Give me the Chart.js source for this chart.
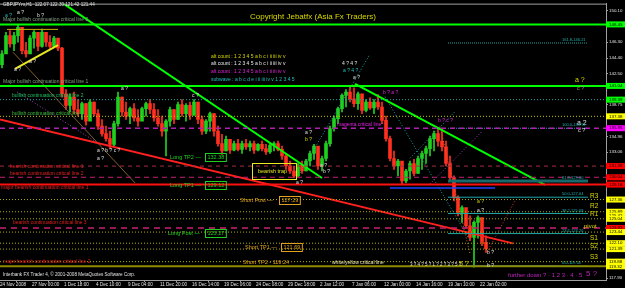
<!DOCTYPE html>
<html>
<head>
<meta charset="utf-8">
<script src="https://cdn.jsdelivr.net/npm/chart.js@4/dist/chart.umd.min.js"></script>
<style>
  html, body { margin: 0; padding: 0; background: #000; }
</style>
</head>
<body>
<canvas id="chart" width="625" height="288"></canvas>
<script>
// GBPJPYm H1 candles (one candle = one column of the picture)
const highs = [145.3,147.5,147.7,147.5,148.4,147.5,146.3,147.1,147.7,147.5,
  147.9,147.5,147.1,147.0,146.5,145.7,140.6,140.1,140.3,139.4,
  139.1,138.9,139.4,139.1,138.2,137.0,136.2,135.6,136.8,140.3,
  139.7,139.1,138.5,138.9,138.2,138.5,139.1,139.4,138.9,138.2,
  137.4,137.0,138.5,138.2,139.1,139.4,138.9,139.1,139.4,139.1,
  137.4,137.0,137.9,137.7,136.2,135.2,135.0,134.6,134.4,134.6,
  134.4,134.6,134.4,134.4,134.1,134.4,134.0,134.1,134.3,134.4,
  133.8,132.9,132.0,131.4,131.7,132.0,132.2,133.2,134.0,133.4,
  132.6,134.4,136.2,137.4,138.5,140.1,140.6,141.0,140.8,140.3,
  139.7,139.4,139.6,139.4,140.0,139.1,137.4,135.0,133.2,132.2,
  131.4,131.0,132.0,132.2,132.6,133.2,133.8,135.0,135.6,135.9,
  135.8,134.4,132.6,130.2,127.8,126.6,126.0,125.4,124.8,125.4,
  124.2,123.0];
const lows = [143.2,145.1,145.7,145.3,146.3,144.9,144.5,145.1,145.6,145.3,
  145.7,145.8,145.5,145.7,145.3,139.7,138.2,137.9,137.7,137.4,
  137.0,136.3,137.0,137.4,135.8,135.0,134.4,133.5,133.8,136.2,
  137.4,137.0,136.5,136.8,136.2,137.0,137.4,137.7,136.8,136.2,
  135.0,132.6,136.2,136.5,137.0,137.4,136.8,137.0,137.7,136.5,
  135.2,135.3,135.6,135.0,133.8,132.8,133.2,132.9,133.2,133.2,
  132.9,133.4,133.2,132.9,133.2,133.2,132.8,132.9,133.2,133.2,
  132.2,131.0,130.5,130.0,130.1,130.5,130.8,131.4,132.2,131.0,
  130.8,132.0,133.8,135.6,136.5,137.9,138.5,139.1,138.5,138.2,
  137.7,137.9,138.2,137.7,138.2,136.5,134.4,132.0,131.0,130.2,
  129.2,129.4,129.8,130.2,130.5,131.0,131.7,132.6,133.2,133.8,
  133.2,131.4,129.6,127.2,125.4,124.6,123.9,122.4,119.2,122.7,
  121.8,121.0];
const closes = [144.9,147.1,146.1,147.1,148.1,145.3,144.9,146.8,147.5,145.8,
  147.5,146.3,145.8,146.8,145.6,140.1,138.7,139.7,138.2,137.7,
  138.9,136.8,139.1,137.7,136.2,135.3,134.7,134.0,136.5,139.7,
  137.9,137.4,138.3,137.2,136.8,138.3,138.9,138.2,137.2,136.5,
  135.6,136.8,138.2,137.0,138.8,137.7,138.7,137.5,139.1,137.0,
  135.6,136.8,137.7,135.6,134.1,133.2,134.6,133.3,134.1,133.4,
  134.1,133.7,134.1,133.3,134.0,133.5,133.1,133.9,134.1,133.4,
  132.6,131.4,130.8,130.2,131.5,130.8,132.0,132.9,133.8,131.4,
  132.3,134.1,135.9,137.1,138.3,139.9,140.3,139.5,138.9,140.1,
  138.1,139.1,138.4,139.1,138.5,136.9,134.7,132.3,131.4,132.0,
  129.6,130.8,131.7,130.5,132.3,132.9,133.5,134.7,135.3,134.4,
  133.7,131.7,130.0,127.6,125.8,126.4,124.2,122.8,124.6,125.2,
  122.2,121.44];
const firstOpen = 143.6;

const dateLabels = ['24 Nov 2008','27 Nov 00:00','1 Dec 18:00','4 Dec 10:00','9 Dec 04:00',
  '11 Dec 20:00','16 Dec 14:00','19 Dec 06:00','24 Dec 08:00','29 Dec 18:00','2 Jan 12:00',
  '7 Jan 06:00','12 Jan 00:00','14 Jan 16:00','19 Jan 10:00','22 Jan 02:00'];
const barsPerLabel = 8;
const priceTicks = [150.10, 146.30, 144.40, 142.50, 138.75, 134.96, 133.06, 117.90];

// horizontal levels
const majorBullLevels = [148.45, 141.04];
const bullLine2 = 139.39;
const bullLine1 = 137.38;
const magentaLine = 135.95;
const bearLine1 = 131.39;
const bearLine2 = 130.04;
const majorBearLine1 = 129.16;
const pivotLine = 123.93;
const pivotLevels = [127.36, 125.89, 125.04, 123.44, 122.10, 121.39, 119.88];
const whiteYellowLine = 119.32;
const fibNames = ['161.8', '100.0', '61.8', '50.0', '38.2', '23.6', '0.0'];
const fibValues = [146.21, 135.94, 129.60, 127.64, 125.68, 123.26, 119.34];
const fibSpan = [111.5, 146.5];
const blueLevels = [128.76, 119.34];
const blueSpans = [[97, 123.25], [114.5, 138.75]];

// trend lines [bar, price]
const greenTrend1 = [[15, 151.07], [80, 129.95]];
const greenTrend2 = [[88.25, 141.29], [135.75, 129.12]];
const redTrend = [[-0.5, 137.0], [127.75, 122.08]];
const yellowTrend = [[3.25, 143.08], [14, 145.94]];
const yellowTop = [[1.25, 147.85], [14, 147.85]];
const brownTrend = [[2.75, 145.1], [33.25, 129.36]];
const purpleTrend = [[3.75, 140.33], [24.5, 134.01]];
// wave channel lines
const tealWave1 = [[74.5, 130.55], [92, 144.87]];
const tealWave2 = [[95.75, 139.74], [117, 122.44]];
const tealWave3 = [[102, 132.34], [113.25, 137.95]];
const orangeWave = [[109.5, 136.16], [117, 120.81]];
const redWave = [[121.25, 121.0], [128.25, 127.21]];
const purpleWave = [[107, 129.24], [120, 135.56]];

// right axis price tags
const tagValues = [148.45, 141.04, 139.39, 137.38, 135.95, 131.39, 130.04, 129.16,
  127.36, 125.89, 125.42, 125.04, 123.93, 123.44, 122.10, 121.39, 119.88, 119.32];
const tagColors = ['#00ff00', '#00ff00', '#00ff00', '#ffff00', '#ff00ff', '#ff0000', '#ff0000', '#ff0000',
  '#ffff00', '#ffff00', '#ffff00', '#ffff00', '#ff0000', '#ffff00', '#ffff00', '#ffff00', '#ffff00', '#ffff00'];

const X0 = -0.5, X1 = 151;
const FONT = '"Liberation Sans", Arial, sans-serif';

const opens = closes.map((c, i) => i === 0 ? firstOpen : closes[i - 1]);
const upCol = '#20d020', downCol = '#ff3020';
const candleCols = closes.map((c, i) => c >= opens[i] ? upCol : downCol);

function seg(a, b, color, width, dash) {
  return {
    type: 'line',
    data: [{ x: a[0], y: a[1] }, { x: b[0], y: b[1] }],
    borderColor: color,
    borderWidth: width,
    borderDash: dash || [],
    pointRadius: 0,
    fill: false,
    order: 1
  };
}
function level(v, color, width, dash, from, to) {
  return seg([from === undefined ? X0 : from, v], [to === undefined ? X1 : to, v], color, width, dash);
}

const datasets = [
  {
    type: 'bar',
    data: highs.map((h, i) => ({ x: i, y: [lows[i], h] })),
    backgroundColor: candleCols,
    barThickness: 1,
    grouped: false,
    order: 3
  },
  {
    type: 'bar',
    data: closes.map((c, i) => ({ x: i, y: [opens[i], c] })),
    backgroundColor: candleCols,
    barThickness: 3,
    grouped: false,
    minBarLength: 1,
    order: 2
  }
];

majorBullLevels.forEach(v => datasets.push(level(v, '#00ff00', 2)));
datasets.push(level(bullLine2, '#1fa0a0', 1, [1, 2]));
datasets.push(level(bullLine1, '#c8c800', 1, [1, 2]));
datasets.push(level(magentaLine, '#b020b0', 1.5, [5, 4]));
datasets.push(level(bearLine1, '#a03040', 1, [4, 4]));
datasets.push(level(bearLine2, '#c82070', 1, [5, 4]));
datasets.push(level(majorBearLine1, '#ff1010', 2));
pivotLevels.forEach(v => datasets.push(level(v, '#b0b000', 1, [1, 2])));
datasets.push(level(pivotLine, '#c82070', 1.5, [6, 5]));
datasets.push(level(whiteYellowLine, '#8c8c00', 2));
fibValues.forEach((v, i) => {
  const name = fibNames[i];
  if (name === '61.8') datasets.push(level(v, '#176a6a', 3, [], fibSpan[0], fibSpan[1]));
  else if (name === '161.8' || name === '100.0') datasets.push(level(v, '#20a0a0', 1, [1, 1], fibSpan[0], fibSpan[1]));
  else datasets.push(level(v, '#20a8a8', 1, [], fibSpan[0], fibSpan[1]));
});
blueLevels.forEach((v, i) => datasets.push(level(v, '#2040ff', 1.5, [], blueSpans[i][0], blueSpans[i][1])));
datasets.push(seg(greenTrend1[0], greenTrend1[1], '#00ff00', 2));
datasets.push(seg(greenTrend2[0], greenTrend2[1], '#00ff00', 2));
datasets.push(seg(redTrend[0], redTrend[1], '#ff2020', 2));
datasets.push(seg(yellowTrend[0], yellowTrend[1], '#e8e820', 2));
datasets.push(seg(yellowTop[0], yellowTop[1], '#c8b400', 1));
datasets.push(seg(brownTrend[0], brownTrend[1], '#806030', 1));
datasets.push(seg(purpleTrend[0], purpleTrend[1], '#a040c0', 1, [1, 2]));
datasets.push(seg(tealWave1[0], tealWave1[1], '#20a0a0', 1, [1, 2]));
datasets.push(seg(tealWave2[0], tealWave2[1], '#20a0a0', 1, [1, 2]));
datasets.push(seg(tealWave3[0], tealWave3[1], '#20a0a0', 1, [1, 2]));
datasets.push(seg(orangeWave[0], orangeWave[1], '#c07020', 1, [1, 2]));
datasets.push(seg(redWave[0], redWave[1], '#e03030', 1, [1, 2]));
datasets.push(seg(purpleWave[0], purpleWave[1], '#a040c0', 1, [1, 2]));

// text objects drawn on the chart: [text, x, y, colour, size]
const texts = [
  ['GBPJPYm,H1  122.07 122.30 121.42 121.44', 3, 5, '#e0e0e0', 4.6],
  ['Copyright Jebatfx (Asia Fx Traders)', 250, 17, '#d8d800', 8],
  ['alt count : 1 2 3 4 5 a b c i ii iii iv v', 211, 57, '#d8d800', 5],
  ['alt count : 1 2 3 4 5 a b c i ii iii iv v', 211, 64, '#e8e8e8', 5],
  ['alt count : 1 2 3 4 5 a b c i ii iii iv v', 211, 72, '#e020e0', 5],
  ['subwave : a b c d e i ii iii iv v 1 2 3 4 5', 211, 80, '#20c0c0', 5],
  ['Major bullish continuation critical line 2', 3, 20, '#80a080', 5],
  ['Major bullish continuation critical line 1', 3, 82, '#80a080', 5],
  ['bullish continuation critical line 2', 12, 96, '#20c060', 5],
  ['bullish continuation critical line 1', 12, 114, '#40c040', 5],
  ['bearish continuation critical line 1', 10, 167, '#e02020', 5],
  ['bearish continuation critical line 2', 10, 174, '#e02020', 5],
  ['major bearish continuation critical line 1', 1, 188, '#e02020', 5],
  ['bearish continuation critical line 3', 13, 223, '#e02020', 5],
  ['major bearish continuation critical line 2', 3, 262, '#e02020', 5],
  ['Interbank FX Trader 4, \u00a9 2001-2008 MetaQuotes Software Corp.', 3, 275, '#e0e0e0', 4.6],
  ['Long TP2 \u2014', 170, 157, '#20d020', 5.5],
  ['Long TP1 \u2014', 170, 185, '#20d020', 5.5],
  ['Long Post \u2014', 168, 233, '#20d020', 5.5],
  ['Short Post \u2014', 240, 200, '#e0a020', 5.5],
  ['Short TP1 \u2014', 245, 247, '#e0a020', 5.5],
  ['Short TP2 - 119.24', 243, 262, '#e0a020', 5.5],
  ['white/yellow critical line', 332, 263, '#e8e8b0', 5],
  ['magenta critical line', 337, 125, '#e020e0', 5],
  ['bearish trap', 258, 171, '#e8e820', 5.5],
  ['further down ? \u00b7 1 2 3 \u00b7 4 \u00b7 5', 508, 275, '#c020c0', 6],
  ['5 ?', 586, 274, '#c020c0', 8],
  ['R3', 590, 196, '#d8d800', 6.5],
  ['R2', 590, 206, '#d8d800', 6.5],
  ['R1', 590, 214, '#d8d800', 6.5],
  ['pivot', 584, 226, '#d8d800', 6],
  ['S1', 590, 238, '#d8d800', 6.5],
  ['S2', 590, 246, '#d8d800', 6.5],
  ['S3', 590, 257, '#d8d800', 6.5],
  ['a ?', 5, 16, '#20c0c0', 5], ['a ?', 17, 13, '#e0e0e0', 5], ['b ?', 37, 16, '#e0e0e0', 5],
  ['a ?', 14, 70, '#e0e0e0', 5], ['a ?', 29, 62, '#e0e0e0', 5], ['a ?', 121, 89, '#e0e0e0', 5],
  ['c ?', 192, 96, '#e0e0e0', 5], ['a ? b ? c ?', 97, 151, '#e0e0e0', 5], ['a ?', 97, 159, '#e0e0e0', 5],
  ['a ?', 305, 133, '#e0e0e0', 5], ['b ?', 305, 140, '#d8d800', 5], ['a ?', 320, 166, '#e0e0e0', 5],
  ['b ?', 323, 172, '#e0e0e0', 5], ['a ?', 296, 183, '#e0e0e0', 5], ['4 ? 4 ?', 342, 64, '#e0e0e0', 5],
  ['a ? 4 ?', 343, 71, '#20c0c0', 5], ['a ?', 353, 78, '#e0e0e0', 5], ['b ? a ?', 383, 93, '#e020e0', 5],
  ['b ? c ?', 438, 121, '#e020e0', 5], ['a ?', 477, 202, '#d8d800', 5], ['a ?', 477, 211, '#e0e0e0', 5],
  ['b ?', 487, 253, '#e0e0e0', 5], ['b ?', 487, 266, '#e0e0e0', 5],
  ['3 ? 4 ? 5 ? 1 ? 2 ? 3 ? 5 ?', 410, 265, '#e0e0e0', 4.5], ['5 ?', 459, 264, '#d8d800', 7],
  ['a ?', 575, 80, '#d8d800', 7], ['c ?', 577, 88, '#a0a060', 5.5],
  ['a 2', 577, 123, '#e0e0e0', 7], ['c ?', 578, 130, '#e0e0e0', 5.5]
];
fibValues.forEach((v, i) => texts.push([fibNames[i] + '-' + v.toFixed(2), 562, null, '#20b0b0', 4, v]));

// boxed price labels: [value text, x, y, colour]
const boxes = [
  ['132.38', 205, 157, '#20d020'],
  ['129.12', 205, 185, '#20d020'],
  ['123.27', 205, 233, '#20d020'],
  ['127.29', 279, 200, '#e0a020'],
  ['121.69', 281, 247, '#e0a020']
];

const overlay = {
  id: 'overlay',
  afterDraw(chart) {
    const ctx = chart.ctx, ys = chart.scales.y, area = chart.chartArea;
    ctx.save();
    // top frame line
    ctx.strokeStyle = '#a0a0a0';
    ctx.lineWidth = 1;
    ctx.beginPath();
    ctx.moveTo(0, area.top + 0.5);
    ctx.lineTo(area.right, area.top + 0.5);
    ctx.stroke();

    ctx.textBaseline = 'middle';
    texts.forEach(t => {
      ctx.font = t[4] + 'px ' + FONT;
      ctx.fillStyle = t[3];
      const y = t[2] === null ? ys.getPixelForValue(t[5]) - 3 : t[2];
      ctx.fillText(t[0], t[1], y);
    });

    ctx.font = '5.5px ' + FONT;
    boxes.forEach(b => {
      const w = ctx.measureText(b[0]).width + 4;
      ctx.strokeStyle = b[3];
      ctx.strokeRect(b[1] + 0.5, b[2] - 3.5, w, 8);
      ctx.fillStyle = b[3];
      ctx.fillText(b[0], b[1] + 2.5, b[2] + 0.5);
    });

    // bearish trap frame
    ctx.strokeStyle = '#e8e820';
    ctx.strokeRect(252.5, 163.5, 44, 16);

    // right axis price tags
    ctx.font = '4.4px ' + FONT;
    tagValues.forEach((v, i) => {
      const y = ys.getPixelForValue(v);
      ctx.fillStyle = tagColors[i];
      ctx.fillRect(area.right, y - 3, 19, 6);
      ctx.fillStyle = '#000';
      ctx.fillText(v.toFixed(2), area.right + 3, y);
    });
    ctx.restore();
  }
};

new Chart(document.getElementById('chart'), {
  type: 'bar',
  data: { datasets },
  options: {
    responsive: false,
    animation: false,
    layout: { padding: { top: 1, left: 0, right: 0, bottom: 0 } },
    plugins: { legend: { display: false }, tooltip: { enabled: false } },
    scales: {
      x: {
        type: 'linear',
        offset: false,
        min: X0,
        max: X1,
        afterBuildTicks: s => { s.ticks = dateLabels.map((d, i) => ({ value: X0 + i * barsPerLabel })); },
        afterFit: s => { s.height = 8; },
        grid: { drawOnChartArea: false, drawTicks: true, tickLength: 2, color: '#a0a0a0' },
        border: { display: true, color: '#a0a0a0' },
        ticks: {
          autoSkip: false, maxRotation: 0, minRotation: 0, align: 'start', padding: 0,
          color: '#e0e0e0', font: { size: 4.6, family: FONT },
          callback: (v, i) => dateLabels[i]
        }
      },
      y: {
        position: 'right',
        min: 117.67,
        max: 150.95,
        afterBuildTicks: s => { s.ticks = priceTicks.map(v => ({ value: v })); },
        afterFit: s => { s.width = 19; },
        grid: { drawOnChartArea: false, drawTicks: true, tickLength: 2, color: '#a0a0a0' },
        border: { display: true, color: '#a0a0a0' },
        ticks: {
          padding: 1, color: '#e0e0e0', font: { size: 4.4, family: FONT },
          callback: v => v.toFixed(2)
        }
      }
    }
  },
  plugins: [overlay]
});
</script>
</body>
</html>
